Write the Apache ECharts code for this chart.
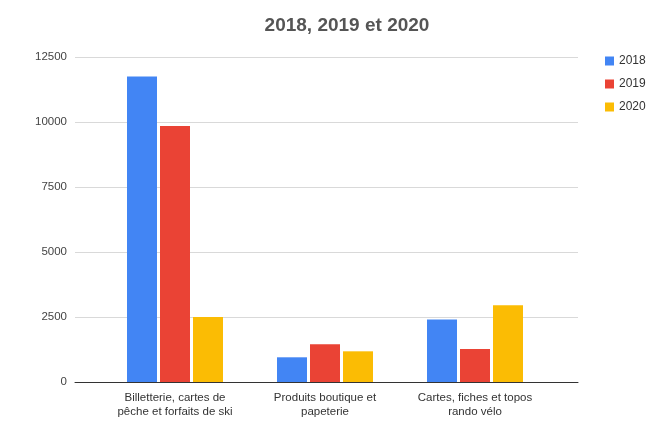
<!DOCTYPE html>
<html><head><meta charset="utf-8">
<script src="https://cdn.jsdelivr.net/npm/echarts@6/dist/echarts.min.js"></script>
<style>html,body{margin:0;padding:0;background:#fff}#c{width:668px;height:430px}</style>
</head><body><div id="c"></div>
<script>
const categories = ["Billetterie, cartes de\npêche et forfaits de ski", "Produits boutique et\npapeterie", "Cartes, fiches et topos\nrando vélo"];
const seriesNames = ["2018", "2019", "2020"];
const values2018 = [11750, 950, 2400];
const values2019 = [9850, 1450, 1270];
const values2020 = [2500, 1180, 2950];
const yTicks = [0, 2500, 5000, 7500, 10000, 12500];
const colors = ["#4285F4", "#EA4335", "#FBBC04"];

const chart = echarts.init(document.getElementById('c'));
const yMin = yTicks[0], yMax = yTicks[yTicks.length - 1], yStep = yTicks[1] - yTicks[0];
const font = "Arial, 'Liberation Sans', sans-serif";
const allVals = [values2018, values2019, values2020];
chart.setOption({
  animation: false,
  title: { text: "2018, 2019 et 2020", left: 342, top: 11, textAlign: 'center',
    textStyle: { fontFamily: font, fontSize: 19, fontWeight: 'bold', color: '#555' } },
  legend: { orient: 'vertical', left: 600, top: 50, itemWidth: 9, itemHeight: 9, itemGap: 11,
    icon: 'rect', textStyle: { fontFamily: font, fontSize: 12, color: '#333' }, data: seriesNames },
  grid: [
    { left: 75, right: 90, top: 57, bottom: 48 },
    { left: 100, right: 118, top: 57, bottom: 48 }
  ],
  xAxis: [
    { type: 'category', gridIndex: 0, data: [''], axisTick: { show: false }, axisLabel: { show: false },
      axisLine: { show: true, lineStyle: { color: '#333', width: 1 } } },
    { type: 'category', gridIndex: 1, data: categories, axisTick: { show: false },
      axisLine: { show: false },
      axisLabel: { fontFamily: font, fontSize: 11.5, color: '#333', margin: 9, lineHeight: 14, interval: 0 } }
  ],
  yAxis: [
    { type: 'value', gridIndex: 0, min: yMin, max: yMax, interval: yStep,
      axisLabel: { fontFamily: font, fontSize: 11.5, color: '#444', margin: 8, formatter: v => String(v) },
      axisLine: { show: false }, axisTick: { show: false },
      splitLine: { lineStyle: { color: '#d9d9d9', width: 1 } } },
    { type: 'value', gridIndex: 1, min: yMin, max: yMax, interval: yStep, show: false,
      splitLine: { show: false } }
  ],
  series: seriesNames.map((n, i) => ({
    name: n, type: 'bar', xAxisIndex: 1, yAxisIndex: 1, data: allVals[i],
    barWidth: 30, barGap: '10%', itemStyle: { color: colors[i] }
  }))
});
</script></body></html>
